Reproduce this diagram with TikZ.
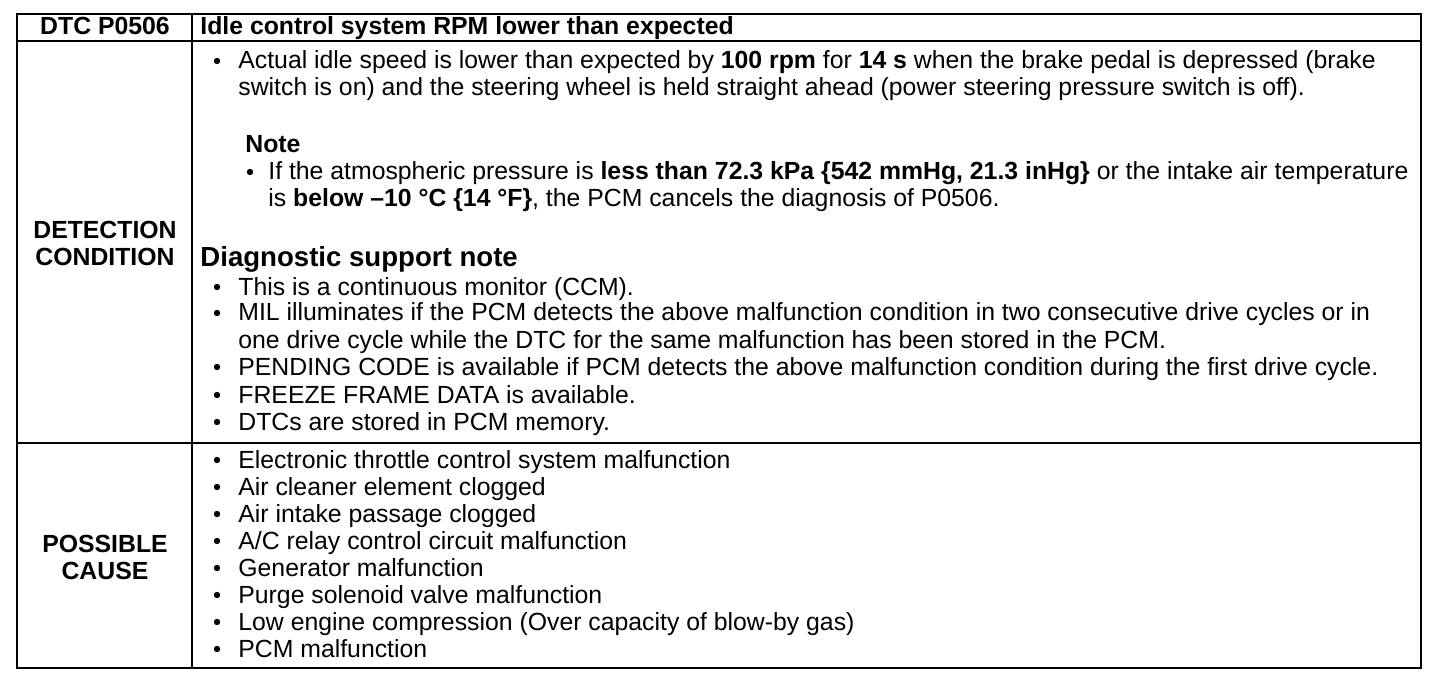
\documentclass[tikz,border=0pt]{standalone}
\usepackage{fontspec}
\setmainfont{Liberation Sans}
\begin{document}
\begin{tikzpicture}[x=0.5pt,y=-0.5pt,
    txt/.style={anchor=base west,inner sep=0pt,font=\fontsize{12.4}{13.5}\selectfont},
    head/.style={anchor=base,inner sep=0pt,font=\fontsize{12.4}{13.5}\selectfont\bfseries},
    rule/.style={line width=1.3pt}]
    \useasboundingbox (0,0) rectangle (1456,684);
    % Frame and rules
    \draw[rule] (17,14) rectangle (1421,668);
    \draw[rule] (192,14) -- (192,668);
    \draw[rule] (17,41) -- (1421,41);
    \draw[rule] (17,443) -- (1421,443);
    % Header row
    \node[head] (dtc) at (105,35) {DTC P0506};
    \node[txt,font=\fontsize{12.4}{13.5}\selectfont\bfseries] (title) at (200,35) {Idle control system RPM lower than expected};
    % Row labels
    \node[head] (det) at (105,239) {DETECTION};
    \node[head] (cond) at (105,266) {CONDITION};
    \node[head] (poss) at (105,552) {POSSIBLE};
    \node[head] (cause) at (105,579) {CAUSE};
    % Detection condition
    \node[txt] (act1) at (238,69) {Actual idle speed is lower than expected by \textbf{100 rpm} for \textbf{14 s} when the brake pedal is depressed (brake};
    \node[txt] (act2) at (238,96) {switch is on) and the steering wheel is held straight ahead (power steering pressure switch is off).};
    \node[txt,font=\fontsize{12.4}{13.5}\selectfont\bfseries] (note) at (245,153) {Note};
    \node[txt] (atm1) at (268,180) {If the atmospheric pressure is \textbf{less than 72.3 kPa \{542 mmHg, 21.3 inHg\}} or the intake air temperature};
    \node[txt] (atm2) at (268,207) {is \textbf{below –10 °C \{14 °F\}}, the PCM cancels the diagnosis of P0506.};
    \node[txt,font=\fontsize{13.8}{15}\selectfont\bfseries] (diag) at (200,267) {Diagnostic support note};
    \node[txt] (ccm) at (238,295) {This is a continuous monitor (CCM).};
    \node[txt] (mil1) at (238,321) {MIL illuminates if the PCM detects the above malfunction condition in two consecutive drive cycles or in};
    \node[txt] (mil2) at (238,348) {one drive cycle while the DTC for the same malfunction has been stored in the PCM.};
    \node[txt] (pend) at (238,375) {PENDING CODE is available if PCM detects the above malfunction condition during the first drive cycle.};
    \node[txt] (ffd) at (238,403) {FREEZE FRAME DATA is available.};
    \node[txt] (mem) at (238,430) {DTCs are stored in PCM memory.};
    % Possible cause
    \foreach \t [count=\i] in {Electronic throttle control system malfunction,
        Air cleaner element clogged, Air intake passage clogged,
        A/C relay control circuit malfunction, Generator malfunction,
        Purge solenoid valve malfunction,
        Low engine compression (Over capacity of blow-by gas), PCM malfunction}
        \node[txt] (cause\i) at (238,441+27*\i) {\t};
    % Bullets
    \foreach \y in {69,295,321,375,403,430,468,495,522,549,576,603,630,657}
        \fill (217,\y-8) circle (3.2);
    \fill (250,172) circle (3.2);
\end{tikzpicture}
\end{document}
